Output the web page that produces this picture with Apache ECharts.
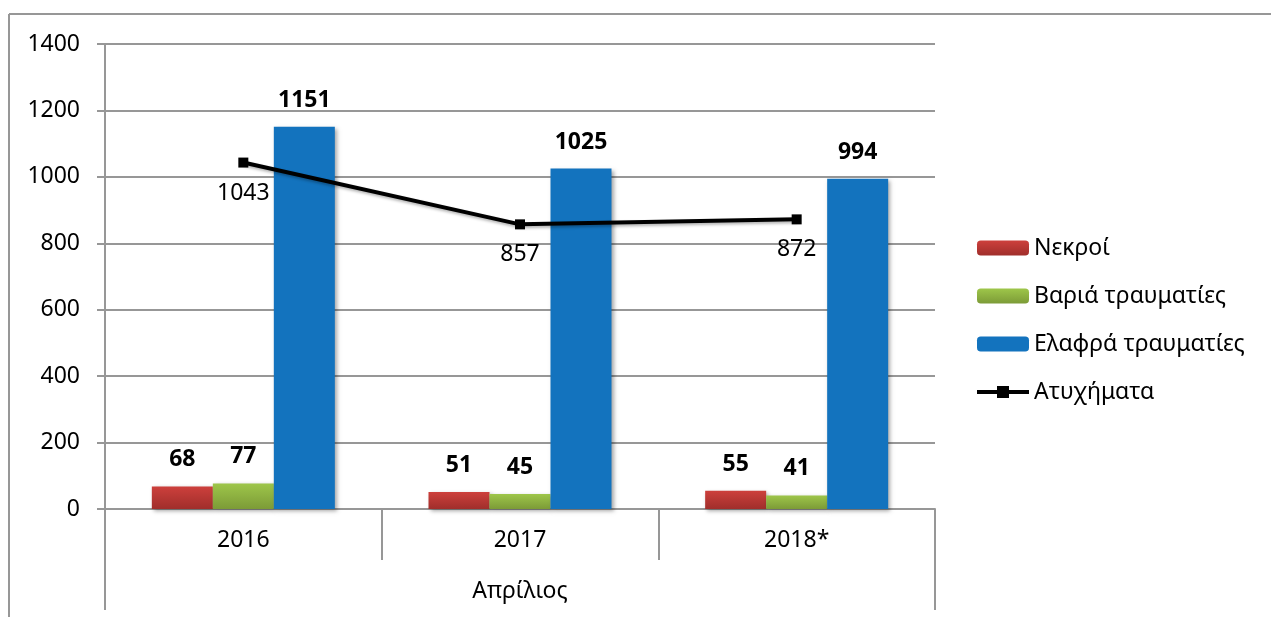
<!DOCTYPE html>
<html>
<head>
<meta charset="utf-8">
<script src="https://cdn.jsdelivr.net/npm/echarts@6/dist/echarts.min.js"></script>
<style>
html,body{margin:0;padding:0;background:#fff;}
#chart{width:1271px;height:617px;}
</style>
</head>
<body>
<div id="chart"></div>
<script>
const categories = ['2016', '2017', '2018*'];
const groupLabel = ['Απρίλιος'];
const deaths = [68, 51, 55];
const seriousInjuries = [77, 45, 41];
const slightInjuries = [1151, 1025, 994];
const accidents = [1043, 857, 872];
const seriesNames = ['Νεκροί', 'Βαριά τραυματίες', 'Ελαφρά τραυματίες', 'Ατυχήματα'];

const FONT = 'Noto Sans';
const FS = 23;
const grey = '#979797';

const chart = echarts.init(document.getElementById('chart'), null, {renderer: 'canvas'});

function grad(top, bottom) {
  return new echarts.graphic.LinearGradient(0, 0, 0, 1, [
    {offset: 0, color: top}, {offset: 1, color: bottom}
  ]);
}
const shadow = {shadowColor: 'rgba(0,0,0,0.35)', shadowBlur: 4, shadowOffsetX: 2, shadowOffsetY: 2};
const barLabel = {show: true, position: 'top', distance: 15, color: '#000', fontFamily: FONT, fontSize: FS, fontWeight: 'bold'};

chart.setOption({
  animation: false,
  backgroundColor: '#fff',
  textStyle: {fontFamily: FONT},
  graphic: [
    {type: 'line', shape: {x1: 9, y1: 14, x2: 1271, y2: 14}, style: {stroke: grey, lineWidth: 2}, silent: true},
    {type: 'line', shape: {x1: 9, y1: 14, x2: 9, y2: 617}, style: {stroke: grey, lineWidth: 2}, silent: true}
  ],
  grid: {left: 105, right: 336, top: 44, bottom: 108, containLabel: false},
  legend: {
    orient: 'vertical',
    left: 975,
    top: 236,
    padding: 0,
    itemWidth: 52,
    itemHeight: 15,
    itemGap: 24,
    textStyle: {color: '#000', fontFamily: FONT, fontSize: FS, lineHeight: 24, padding: [0, 0, 0, 0]},
    data: [
      seriesNames[0], seriesNames[1], seriesNames[2],
      {name: seriesNames[3], lineStyle: {width: 4, color: '#000'}}
    ]
  },
  xAxis: [
    {
      type: 'category',
      data: categories,
      position: 'bottom',
      boundaryGap: true,
      axisLine: {show: true, lineStyle: {color: grey, width: 2}},
      axisTick: {show: true, alignWithLabel: false, length: 51, lineStyle: {color: grey, width: 2}},
      axisLabel: {color: '#000', fontFamily: FONT, fontSize: FS, margin: 20},
      splitLine: {show: false}
    },
    {
      type: 'category',
      data: groupLabel,
      position: 'bottom',
      offset: 0,
      boundaryGap: true,
      axisLine: {show: false},
      axisTick: {show: true, alignWithLabel: false, length: 101, lineStyle: {color: grey, width: 2}},
      axisLabel: {color: '#000', fontFamily: FONT, fontSize: FS, margin: 71},
      splitLine: {show: false}
    }
  ],
  yAxis: {
    type: 'value',
    min: 0,
    max: 1400,
    interval: 200,
    axisLine: {show: true, lineStyle: {color: grey, width: 2}},
    axisTick: {show: true, length: 8, lineStyle: {color: grey, width: 2}},
    axisLabel: {color: '#000', fontFamily: FONT, fontSize: FS, margin: 25, formatter: function (v) { return String(v); }},
    splitLine: {show: true, lineStyle: {color: grey, width: 2}}
  },
  series: [
    {
      name: seriesNames[0], type: 'bar', data: deaths, barWidth: 61, barGap: '0%',
      itemStyle: Object.assign({color: grad('#CD403C', '#A02E2B')}, shadow),
      label: barLabel
    },
    {
      name: seriesNames[1], type: 'bar', data: seriousInjuries, barWidth: 61, barGap: '0%',
      itemStyle: Object.assign({color: grad('#9EC64A', '#7C9B37')}, shadow),
      label: barLabel
    },
    {
      name: seriesNames[2], type: 'bar', data: slightInjuries, barWidth: 61, barGap: '0%',
      itemStyle: Object.assign({color: '#1373BE'}, shadow),
      label: barLabel
    },
    {
      name: seriesNames[3], type: 'line', data: accidents, z: 5,
      symbol: 'rect', symbolSize: 10,
      lineStyle: {color: '#000', width: 4, shadowColor: 'rgba(0,0,0,0.3)', shadowBlur: 3, shadowOffsetX: 1, shadowOffsetY: 2},
      itemStyle: {color: '#000'},
      label: {show: true, position: 'bottom', distance: 14, color: '#000', fontFamily: FONT, fontSize: FS}
    }
  ]
});
</script>
</body>
</html>
